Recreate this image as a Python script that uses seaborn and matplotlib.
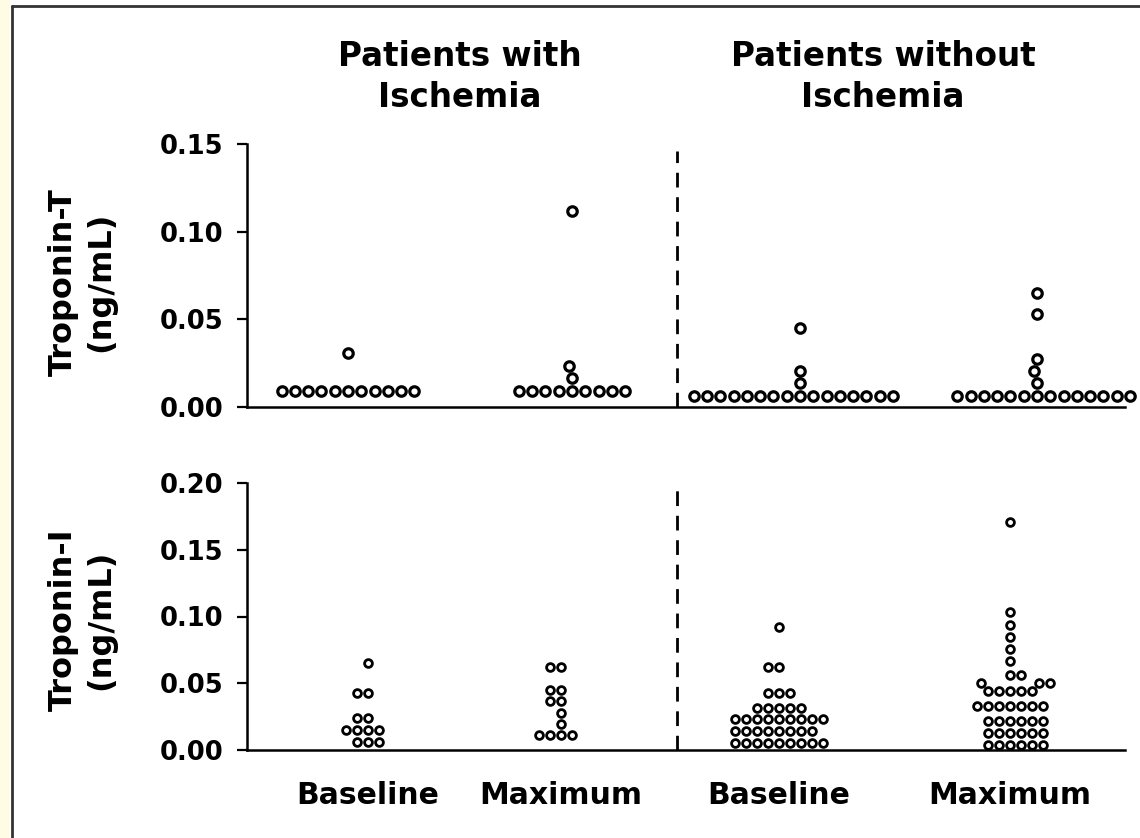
import matplotlib
matplotlib.use("Agg")
import matplotlib.pyplot as plt
from matplotlib.lines import Line2D
from matplotlib.patches import Rectangle
from matplotlib.ticker import FormatStrFormatter
import pandas as pd
import seaborn as sns
from seaborn.categorical import Beeswarm

sns.set_style("ticks")
plt.rcParams['font.family'] = ['DejaVu Sans']
plt.rcParams['font.weight'] = 'bold'
for k in ['text.color', 'axes.labelcolor', 'xtick.color', 'ytick.color']:
    plt.rcParams[k] = 'black'

# let the long rows spread past seaborn's default swarm width
Beeswarm.add_gutters = lambda self, points, *args, **kwargs: points

# groups (left to right) and their tick labels
groups = ['isch_base', 'isch_max', 'none_base', 'none_max']
tick_labels = ['Baseline', 'Maximum', 'Baseline', 'Maximum']
titles = ['Patients with\nIschemia', 'Patients without\nIschemia']

# Troponin-T (ng/mL)
tnt_isch_base = [0.009, 0.009, 0.009, 0.009, 0.009, 0.009, 0.009, 0.009, 0.009, 0.009, 0.009,
                 0.031]
tnt_isch_max = [0.009, 0.009, 0.009, 0.009, 0.009, 0.009, 0.009, 0.009, 0.009,
                0.0165, 0.0235, 0.112]
tnt_none_base = [0.006, 0.006, 0.006, 0.006, 0.006, 0.006, 0.006, 0.006,
                 0.006, 0.006, 0.006, 0.006, 0.006, 0.006, 0.006, 0.006,
                 0.0135, 0.0208, 0.045]
tnt_none_max = [0.006, 0.006, 0.006, 0.006, 0.006, 0.006, 0.006,
                0.006, 0.006, 0.006, 0.006, 0.006, 0.006, 0.006,
                0.0135, 0.0205, 0.0275, 0.053, 0.065]

# Troponin-I (ng/mL)
tni_isch_base = [0.006, 0.006, 0.006, 0.015, 0.015, 0.015, 0.015,
                 0.024, 0.024, 0.043, 0.043, 0.065]
tni_isch_max = [0.011, 0.011, 0.011, 0.011, 0.0195, 0.028, 0.0365, 0.0365,
                0.045, 0.045, 0.062, 0.062]
tni_none_base = [0.005, 0.005, 0.005, 0.005, 0.005, 0.005, 0.005, 0.005, 0.005,
                 0.014, 0.014, 0.014, 0.014, 0.014, 0.014, 0.014, 0.014,
                 0.023, 0.023, 0.023, 0.023, 0.023, 0.023, 0.023, 0.023, 0.023,
                 0.0315, 0.0315, 0.0315, 0.0315, 0.0315,
                 0.043, 0.043, 0.043,
                 0.062, 0.062, 0.092]
tni_none_max = [0.004, 0.004, 0.004, 0.004, 0.004, 0.004,
                0.013, 0.013, 0.013, 0.013, 0.013, 0.013,
                0.022, 0.022, 0.022, 0.022, 0.022, 0.022,
                0.033, 0.033, 0.033, 0.033, 0.033, 0.033, 0.033,
                0.044, 0.044, 0.044, 0.044, 0.044,
                0.050, 0.050, 0.050,
                0.056, 0.056,
                0.067, 0.076, 0.085, 0.094, 0.103, 0.171]

# layout: horizontal group centres (pixel-like units across the axis)
x_range = (247, 1125)
xpos_top = [348, 572, 800, 1037]
xpos_bot = [368, 561, 779, 1010]
divider_x = 677


def long_df(lists, xpos):
    rows = []
    for g, p, vals in zip(groups, xpos, lists):
        for v in vals:
            rows.append({'group': g, 'pos': p, 'value': v})
    return pd.DataFrame(rows)


df_t = long_df([tnt_isch_base, tnt_isch_max, tnt_none_base, tnt_none_max], xpos_top)
df_i = long_df([tni_isch_base, tni_isch_max, tni_none_base, tni_none_max], xpos_bot)

W, H = 1140, 838
fig = plt.figure(figsize=(W / 100, H / 100), dpi=100)
fig.patch.set_facecolor('white')

# yellowish strip and dark frame at the left/top edge
fig.patches.append(Rectangle((0, 0), 10 / W, 1, transform=fig.transFigure,
                             facecolor='#fffbe4', edgecolor='none'))
fig.lines.append(Line2D([12 / W, 12 / W], [0, 1 - 6 / H], transform=fig.transFigure,
                        color='#333333', lw=2))
fig.lines.append(Line2D([12 / W, 1], [1 - 6 / H, 1 - 6 / H], transform=fig.transFigure,
                        color='#333333', lw=2))

ax1 = fig.add_axes([247 / W, (H - 407) / H, (1125 - 247) / W, (407 - 144) / H])
ax2 = fig.add_axes([247 / W, (H - 750) / H, (1125 - 247) / W, (750 - 483) / H])

for ax, df, top, lw, sz in [(ax1, df_t, 0.15, 2.3, 6.8),
                             (ax2, df_i, 0.20, 2.0, 5.6)]:
    sns.swarmplot(data=df, x='pos', y='value', ax=ax, native_scale=True, orient='x',
                  color='white', edgecolor='black', linewidth=lw, size=sz,
                  warn_thresh=1.0)
    for c in ax.collections:
        c.set_clip_on(False)
    ax.set_xlim(*x_range)
    ax.set_ylim(0, top)
    ax.set_yticks([i * 0.05 for i in range(int(round(top / 0.05)) + 1)])
    ax.yaxis.set_major_formatter(FormatStrFormatter('%.2f'))
    ax.tick_params(axis='y', length=7, width=1.6, labelsize=18.5, pad=10)
    ax.tick_params(axis='x', length=0)
    for s in ['top', 'right']:
        ax.spines[s].set_visible(False)
    for s in ['left', 'bottom']:
        ax.spines[s].set_linewidth(1.8)
        ax.spines[s].set_color('black')
    ax.set_xlabel('')
    ax.set_ylabel('')
    ax.axvline(divider_x, ymin=0, ymax=0.975, color='black', lw=2, ls=(0, (5.3, 3.5)))
    ax.set_facecolor('none')

ax1.set_xticks([])
ax2.set_xticks(xpos_bot)
ax2.set_xticklabels(tick_labels, fontsize=21.5, fontweight='bold')
ax2.tick_params(axis='x', pad=22)

fig.text(82 / W, 1 - 282 / H, 'Troponin-T\n(ng/mL)', rotation=90, ha='center', va='center',
         multialignment='center', fontsize=23, fontweight='bold', linespacing=1.3)
fig.text(82 / W, 1 - 620 / H, 'Troponin-I\n(ng/mL)', rotation=90, ha='center', va='center',
         multialignment='center', fontsize=23, fontweight='bold', linespacing=1.3)

fig.text(460 / W, 1 - 77 / H, titles[0], ha='center', va='center', multialignment='center',
         fontsize=23.5, fontweight='bold', linespacing=1.3)
fig.text(883 / W, 1 - 77 / H, titles[1], ha='center', va='center', multialignment='center',
         fontsize=23.5, fontweight='bold', linespacing=1.3)

fig.savefig('out.png', dpi=100)
